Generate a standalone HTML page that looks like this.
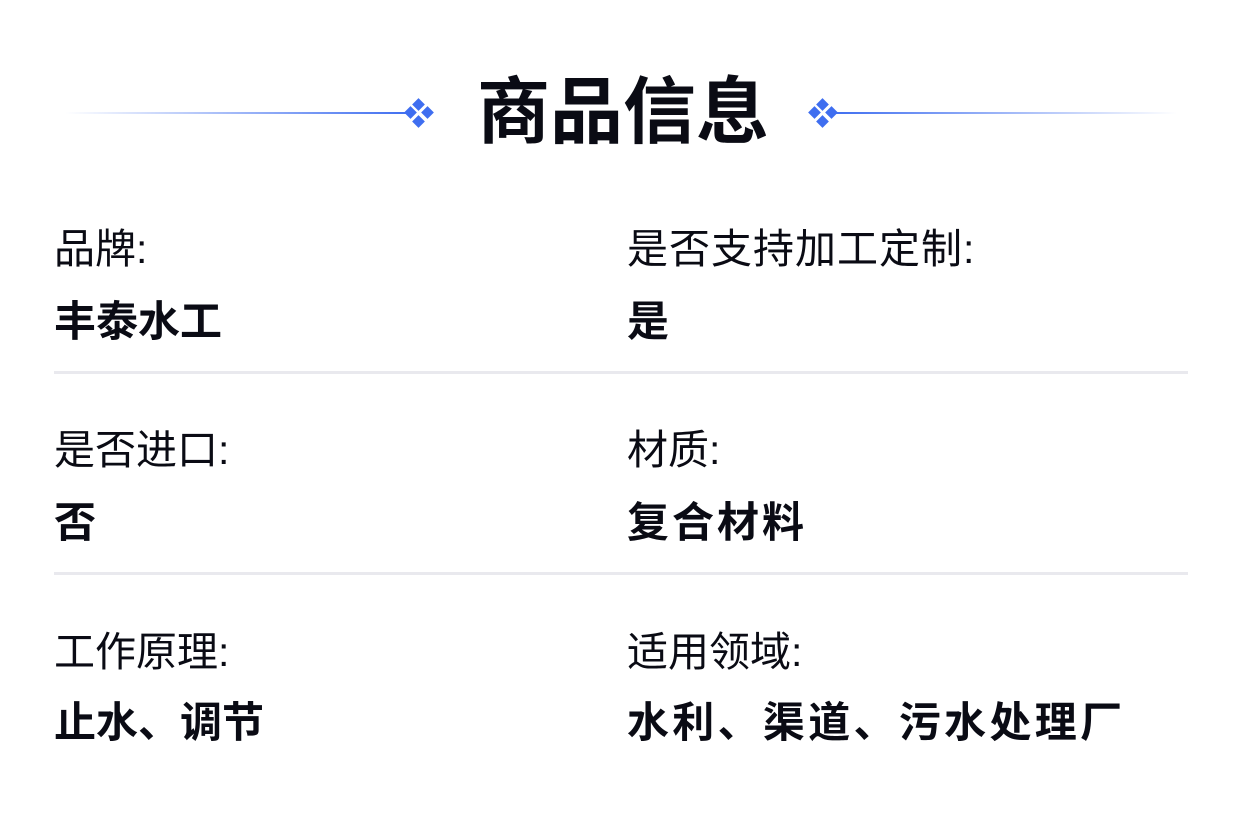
<!DOCTYPE html><html><head><meta charset="utf-8"><style>
body{margin:0;width:1242px;height:815px;background:#fff;position:relative;overflow:hidden;font-family:"Liberation Sans","Noto Sans CJK SC",sans-serif;color:#0a0b14}
.t{position:absolute;white-space:nowrap;line-height:1}
.l{font-size:41px;font-weight:400}
.v{font-size:42px;font-weight:700}
.hr{position:absolute;left:54px;width:1134px;height:3px;background:#e9e9ee}
.d{position:absolute;width:9px;height:9px;background:#3f6ef0;transform:rotate(45deg)}
</style></head><body>
<div style="position:absolute;left:65px;top:112px;width:345px;height:2px;background:linear-gradient(90deg,rgba(63,110,240,0),#3f6ef0)"></div>
<div style="position:absolute;left:832px;top:112px;width:345px;height:2px;background:linear-gradient(90deg,#3f6ef0,rgba(63,110,240,0))"></div>
<div class="d" style="left:414px;top:100px"></div><div class="d" style="left:414px;top:117px"></div><div class="d" style="left:406px;top:108px"></div><div class="d" style="left:423px;top:108px"></div>
<div class="d" style="left:818px;top:100px"></div><div class="d" style="left:818px;top:117px"></div><div class="d" style="left:810px;top:108px"></div><div class="d" style="left:827px;top:108px"></div>
<div class="t" style="left:477px;top:76px;font-size:73px;font-weight:700">商品信息</div>
<div class="t l" style="left:54px;top:229px">品牌:</div>
<div class="t v" style="left:54px;top:301px">丰泰水工</div>
<div class="t l" style="left:627px;top:229px;letter-spacing:1px">是否支持加工定制:</div>
<div class="t v" style="left:627px;top:301px">是</div>
<div class="hr" style="top:371px"></div>
<div class="t l" style="left:54px;top:430px">是否进口:</div>
<div class="t v" style="left:54px;top:502px">否</div>
<div class="t l" style="left:627px;top:430px">材质:</div>
<div class="t v" style="left:627px;top:502px;letter-spacing:3px">复合材料</div>
<div class="hr" style="top:572px"></div>
<div class="t l" style="left:54px;top:632px">工作原理:</div>
<div class="t v" style="left:54px;top:702px">止水、调节</div>
<div class="t l" style="left:627px;top:632px">适用领域:</div>
<div class="t v" style="left:627px;top:702px;letter-spacing:3.3px">水利、渠道、污水处理厂</div>
</body></html>
